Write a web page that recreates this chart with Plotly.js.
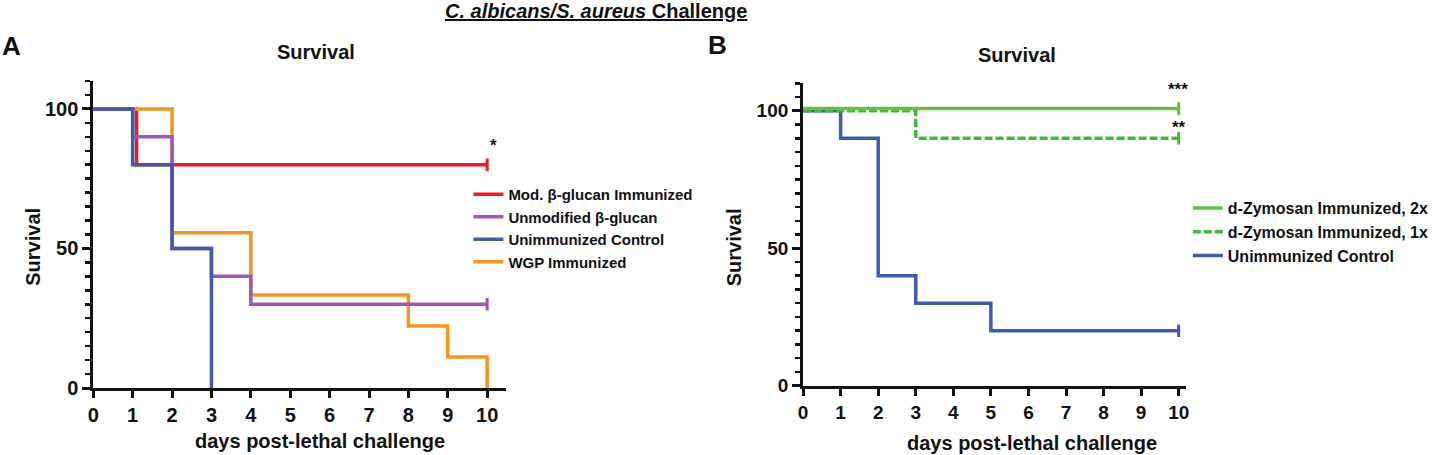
<!DOCTYPE html>
<html>
<head>
<meta charset="utf-8">
<script src="https://cdn.plot.ly/plotly-3.0.1.min.js"></script>
<style>html,body{margin:0;padding:0;background:#fff;}#chart{width:1434px;height:455px;}</style>
</head>
<body>
<div id="chart"></div>
<script>
// ---- Panel A data (days, % survival) ----
const daysA_mod   = [0, 1.1, 10];
const survA_mod   = [100, 80, 80];
const daysA_unmod = [0, 1, 2, 3, 4, 10];
const survA_unmod = [100, 90, 50, 40, 30, 30];
const daysA_ctrl  = [0, 1, 2, 3];
const survA_ctrl  = [100, 80, 50, 0];
const daysA_wgp   = [0, 2, 4, 8, 9, 10];
const survA_wgp   = [100, 55.6, 33.3, 22.2, 11.1, 0];

// ---- Panel B data ----
const daysB_2x   = [0, 10];
const survB_2x   = [100.8, 100.8];
const daysB_1x   = [0, 3, 10];
const survB_1x   = [100, 90, 90];
const daysB_ctrl = [0, 1, 2, 3, 5, 10];
const survB_ctrl = [100, 90, 40, 30, 20, 20];

// censored end points
const censA_x = [10, 10];
const censA_y = [80, 30];
const censB_x = [10, 10, 10];
const censB_y = [100.8, 90, 20];

const namesA = ['Mod. β-glucan Immunized', 'Unmodified β-glucan', 'Unimmunized Control', 'WGP Immunized'];
const namesB = ['d-Zymosan Immunized, 2x', 'd-Zymosan Immunized, 1x', 'Unimmunized Control'];
const xTicks = [0,1,2,3,4,5,6,7,8,9,10];
const yTicks = [0, 50, 100];

const RED = '#ED1C24', PURPLE = '#9B59B6', BLUE = '#3F5AAE', ORANGE = '#F7941D';
const GREEN = '#6BBE45', GREEN2 = '#3DBB3D';
const LW = 3.5;
const FONT = 'Liberation Sans, Arial, sans-serif';

function step(x, y, name, color, xa, ya, leg, rank, dash) {
  return {x: x, y: y, name: name, type: 'scatter', mode: 'lines',
    line: {shape: 'hv', color: color, width: LW, dash: dash || 'solid'},
    xaxis: xa, yaxis: ya, legend: leg, legendrank: rank, hoverinfo: 'skip'};
}

const traces = [
  step(daysA_mod, survA_mod, namesA[0], RED, 'x', 'y', 'legend', 1),
  step(daysA_wgp, survA_wgp, namesA[3], ORANGE, 'x', 'y', 'legend', 4),
  step(daysA_unmod, survA_unmod, namesA[1], PURPLE, 'x', 'y', 'legend', 2),
  step(daysA_ctrl, survA_ctrl, namesA[2], BLUE, 'x', 'y', 'legend', 3),
  {x: censA_x, y: censA_y, type: 'scatter', mode: 'markers', showlegend: false, hoverinfo: 'skip',
   marker: {symbol: 'line-ns', size: 9, color: [RED, PURPLE], line: {width: 3, color: [RED, PURPLE]}},
   xaxis: 'x', yaxis: 'y'},
  step(daysB_ctrl, survB_ctrl, namesB[2], BLUE, 'x2', 'y2', 'legend2', 3),
  step(daysB_1x, survB_1x, namesB[1], GREEN2, 'x2', 'y2', 'legend2', 2, '8px,3px'),
  step(daysB_2x, survB_2x, namesB[0], GREEN, 'x2', 'y2', 'legend2', 1),
  {x: censB_x, y: censB_y, type: 'scatter', mode: 'markers', showlegend: false, hoverinfo: 'skip',
   marker: {symbol: 'line-ns', size: 9, color: [GREEN, GREEN2, BLUE], line: {width: 3, color: [GREEN, GREEN2, BLUE]}},
   xaxis: 'x2', yaxis: 'y2'}
];

const W = 1434, H = 455;
const px = v => v / W, py = v => 1 - v / H;

function xaxis(dom, rng, anchor, fs) {
  return {domain: dom, range: rng, anchor: anchor, tickvals: xTicks, ticktext: xTicks.map(String),
    ticks: 'outside', ticklen: 7, tickwidth: 3, tickcolor: '#111', showline: true, linewidth: 3, linecolor: '#111',
    showgrid: false, zeroline: false, fixedrange: true,
    tickfont: {family: FONT, size: fs, color: '#111', weight: 'bold'}};
}
function yaxis(dom, anchor, fs) {
  return {domain: dom, range: [0, 110], anchor: anchor, tickvals: yTicks, ticktext: yTicks.map(String),
    ticks: 'outside', ticklen: 8, tickwidth: 3, tickcolor: '#111', showline: true, linewidth: 3, linecolor: '#111',
    showgrid: false, zeroline: false, fixedrange: true,
    minor: {dtick: 5, tick0: 0, ticks: 'outside', ticklen: 5, tickwidth: 2.5, tickcolor: '#111', showgrid: false},
    tickfont: {family: FONT, size: fs, color: '#111', weight: 'bold'}};
}

function ann(text, x, y, size, extra) {
  return Object.assign({text: text, x: px(x), y: py(y), xref: 'paper', yref: 'paper', showarrow: false,
    xanchor: 'center', yanchor: 'middle', font: {family: FONT, size: size, color: '#111', weight: 'bold'}}, extra || {});
}

const layout = {
  width: W, height: H, margin: {l: 0, r: 0, t: 0, b: 0},
  paper_bgcolor: '#fff', plot_bgcolor: '#fff', showlegend: true,
  xaxis: xaxis([px(94), px(510)], [0, 10.48], 'y', 20),
  yaxis: yaxis([py(388), py(81)], 'x', 20),
  xaxis2: xaxis([px(809.3), px(1195)], [0, 10.19], 'y2', 19),
  yaxis2: yaxis([py(385.7), py(83.3)], 'x2', 19),
  legend: {x: px(472), y: py(178), xanchor: 'left', yanchor: 'top', bgcolor: 'rgba(0,0,0,0)',
    font: {family: FONT, size: 15, color: '#111', weight: 'bold'}, traceorder: 'normal'},
  legend2: {x: px(1197), y: py(191), xanchor: 'left', yanchor: 'top', bgcolor: 'rgba(0,0,0,0)',
    font: {family: FONT, size: 16, color: '#111', weight: 'bold'}, traceorder: 'normal'},
  annotations: [
    ann('<u><i>C. albicans/S. aureus</i> Challenge</u>', 601, 11, 20),
    ann('A', 12, 46, 26),
    ann('B', 723, 45, 26),
    ann('Survival', 318, 52, 20),
    ann('Survival', 1025, 55, 20),
    ann('Survival', 33, 247, 20, {textangle: -90}),
    ann('Survival', 740, 247, 20, {textangle: -90}),
    ann('days post-lethal challenge', 322, 441, 20),
    ann('days post-lethal challenge', 1040, 443, 20),
    ann('*', 497, 145, 17),
    ann('***', 1187, 90, 17),
    ann('**', 1188, 127, 17)
  ]
};

Plotly.newPlot('chart', traces, layout, {staticPlot: true, displayModeBar: false});
</script>
</body>
</html>
